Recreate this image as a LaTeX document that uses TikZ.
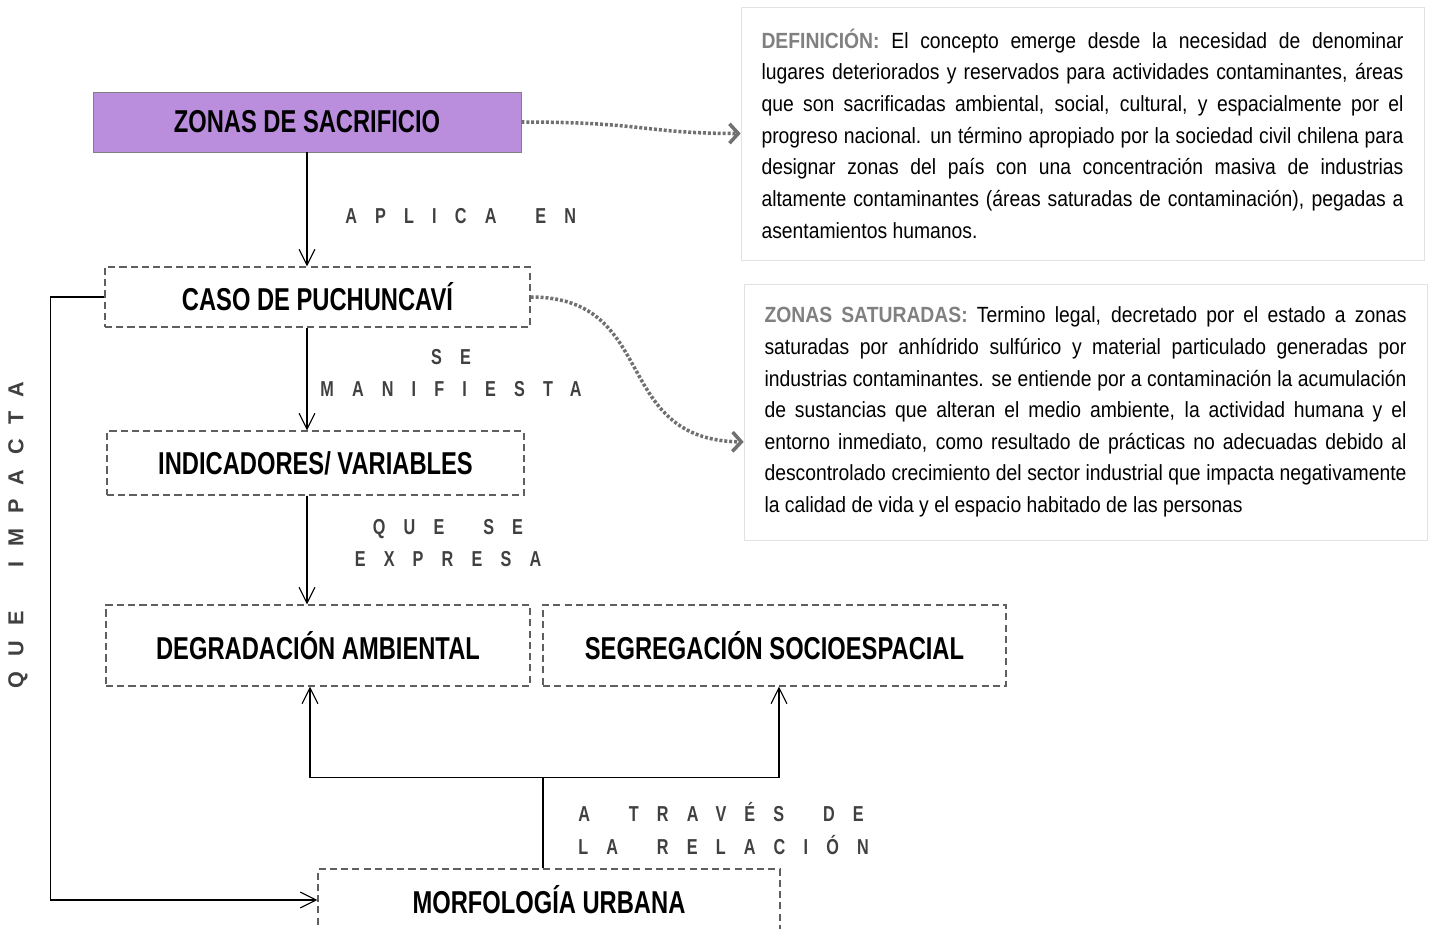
\documentclass[tikz,border=0pt]{standalone}
\usepackage{fontspec}
\setmainfont{Liberation Sans}
\newfontfamily\narrowfont[FakeStretch=0.75]{Liberation Sans}
\newfontfamily\bodyfont[FakeStretch=0.88]{Liberation Sans}
\newfontfamily\spacedfont[FakeStretch=0.75,LetterSpace=84]{Liberation Sans}
\newfontfamily\widefont[LetterSpace=70]{Liberation Sans}
\usetikzlibrary{arrows.meta}

\definecolor{lila}{RGB}{187,142,221}
\definecolor{rayas}{RGB}{95,95,95}
\definecolor{etiqueta}{RGB}{64,64,64}
\definecolor{marco}{RGB}{226,226,226}
\definecolor{titulo}{RGB}{128,128,128}
\definecolor{punteado}{RGB}{112,112,112}

\newcommand{\gap}{\ \hspace{0.75em}}

\begin{document}
\begin{tikzpicture}[
    main/.style={rectangle, draw=titulo, fill=lila, minimum width=8.56cm, minimum height=1.2cm, font=\narrowfont\bfseries\fontsize{18}{20}\selectfont},
    concept/.style={rectangle, draw=rayas, line width=0.8pt, dash pattern=on 4pt off 2.4pt, font=\narrowfont\bfseries\fontsize{18}{20}\selectfont},
    note/.style={rectangle, draw=marco, text width=12.84cm, inner xsep=0.41cm, align=justify, font=\bodyfont\fontsize{12.5}{18}\selectfont},
    verb/.style={inner sep=0pt, text=etiqueta, align=center, font=\spacedfont\bfseries\fontsize{12.3}{18.5}\selectfont},
    arrow/.style={-{Straight Barb[length=9pt,width=9pt]}, line width=0.6pt},
    dots/.style={-{Straight Barb[length=5pt,width=11pt]}, draw=punteado, line width=2pt, dash pattern=on 1.7pt off 1.1pt}
]
\useasboundingbox (0,0) rectangle (28.58,-18.56);
\clip (0,0) rectangle (28.58,-18.56);

% Concepts (top to bottom)
\node[main] (zonas) at (6.14, -2.44) {ZONAS DE SACRIFICIO};
\node[concept, minimum width=8.5cm, minimum height=1.2cm] (caso) at (6.35, -5.94) {CASO DE PUCHUNCAVÍ};
\node[concept, minimum width=8.34cm, minimum height=1.28cm] (ind) at (6.31, -9.26) {INDICADORES/ VARIABLES};
\node[concept, minimum width=8.48cm, minimum height=1.62cm] (deg) at (6.36, -12.91) {DEGRADACIÓN AMBIENTAL};
\node[concept, minimum width=9.26cm, minimum height=1.62cm] (seg) at (15.49, -12.91) {SEGREGACIÓN SOCIOESPACIAL};
\node[concept, minimum width=9.24cm, minimum height=1.24cm] (morf) at (10.98, -18.0) {MORFOLOGÍA URBANA};

% Notes
\node[note, minimum height=5.06cm] (def) at (21.65, -2.67) {\textcolor{titulo}{\bfseries DEFINICIÓN:} El concepto emerge desde la necesidad de denominar\linebreak
lugares deteriorados y reservados para actividades contaminantes, áreas\linebreak
que son sacrificadas ambiental, social, cultural, y espacialmente por el\linebreak
progreso nacional. un término apropiado por la sociedad civil chilena para\linebreak
designar zonas del país con una concentración masiva de industrias\linebreak
altamente contaminantes (áreas saturadas de contaminación), pegadas a\linebreak
asentamientos humanos.};
\node[note, minimum height=5.12cm] (sat) at (21.71, -8.24) {\textcolor{titulo}{\bfseries ZONAS SATURADAS:} Termino legal, decretado por el estado a zonas\linebreak
saturadas por anhídrido sulfúrico y material particulado generadas por\linebreak
industrias contaminantes. se entiende por a contaminación la acumulación\linebreak
de sustancias que alteran el medio ambiente, la actividad humana y el\linebreak
entorno inmediato, como resultado de prácticas no adecuadas debido al\linebreak
descontrolado crecimiento del sector industrial que impacta negativamente\linebreak
la calidad de vida y el espacio habitado de las personas};

% Labels on the connectors
\node[verb, anchor=west] (aplica) at (6.9, -4.32) {APLICA\gap EN};
\node[verb] (manifiesta) at (9.02, -7.46) {SE\\MANIFIESTA};
\node[verb] (expresa) at (8.96, -10.86) {QUE\gap SE\\EXPRESA};
\node[verb, anchor=west, align=left] (relacion) at (11.56, -16.57) {A\gap TRAVÉS\gap DE\\LA\gap RELACIÓN};
\node[verb, rotate=90, font=\widefont\bfseries\fontsize{12.3}{18}\selectfont] (impacta) at (0.36, -10.7) {QUE\hspace{2em}IMPACTA};

% Arrows
\draw[arrow] (zonas.south) -- (zonas.south |- caso.north);
\draw[arrow] (zonas.south |- caso.south) -- (zonas.south |- ind.north);
\draw[arrow] (zonas.south |- ind.south) -- (zonas.south |- deg.north);
\draw[arrow] ([xshift=-0.12cm]morf.north) -- ++(0,1.82) -| ([xshift=-0.16cm]deg.south);
\draw[arrow] ([xshift=-0.12cm]morf.north) -- ++(0,1.82) -| ([xshift=0.09cm]seg.south);
\draw[arrow] (caso.west) -- ++(-1.08,0) |- (morf.west);
\draw[dots] (zonas.east) .. controls (12.9,-2.44) and (12.9,-2.67) .. (def.west);
\draw[dots] (caso.east) .. controls (13.2,-5.94) and (12.2,-8.8) .. (sat.185);

\end{tikzpicture}
\end{document}
